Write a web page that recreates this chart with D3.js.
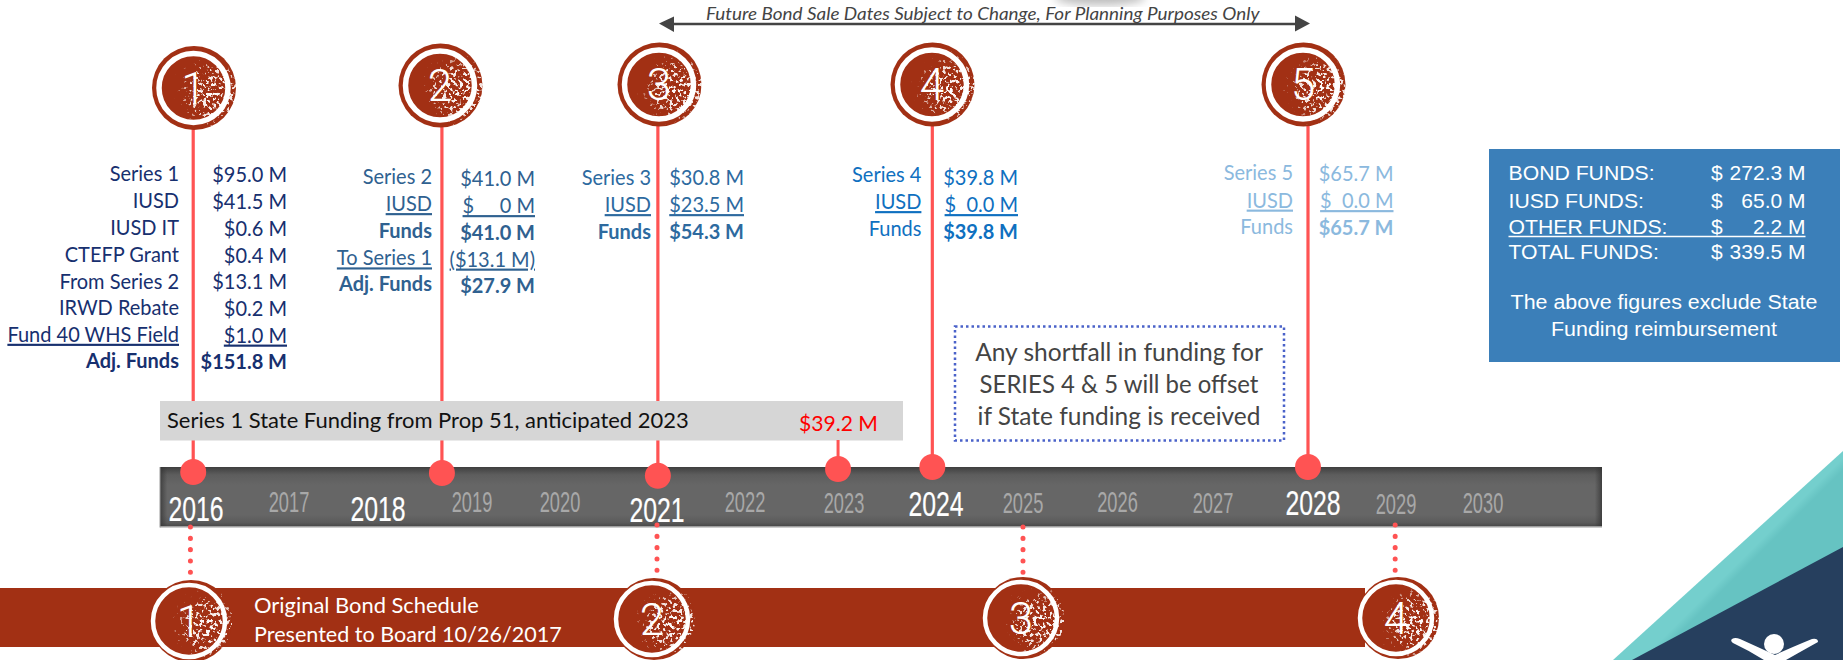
<!DOCTYPE html>
<html><head><meta charset="utf-8">
<script src="https://cdnjs.cloudflare.com/ajax/libs/d3/7.8.5/d3.min.js"></script>
<style>html,body{margin:0;padding:0;background:#fff;overflow:hidden}svg{display:block}text{white-space:pre}</style>
</head><body><svg id="c" width="1843" height="660"></svg>
<script>
// ---------- data ----------
const years = [2016,2017,2018,2019,2020,2021,2022,2023,2024,2025,2026,2027,2028,2029,2030];
const highlightYears = [2016,2018,2021,2024,2028];
const saleDates = [2015.97,2018.68,2021.01,2023.96,2027.95];
const stateFundingDate = 2022.94;
const originalDates = [2015.94,2021.0,2025.0,2028.99];
const series1Labels = ["Series 1","IUSD","IUSD IT","CTEFP Grant","From Series 2","IRWD Rebate","Fund 40 WHS Field","Adj. Funds"];
const series1Values = ["$95.0 M","$41.5 M","$0.6 M","$0.4 M","$13.1 M","$0.2 M","$1.0 M","$151.8 M"];
const series2Labels = ["Series 2","IUSD","Funds","To Series 1","Adj. Funds"];
const series2Values = ["$41.0 M","$\u00a0\u00a0\u00a0\u00a0\u00a00 M","$41.0 M","($13.1 M)","$27.9 M"];
const series3Labels = ["Series 3","IUSD","Funds"];
const series3Values = ["$30.8 M","$23.5 M","$54.3 M"];
const series4Labels = ["Series 4","IUSD","Funds"];
const series4Values = ["$39.8 M","$\u00a0\u00a00.0 M","$39.8 M"];
const series5Labels = ["Series 5","IUSD","Funds"];
const series5Values = ["$65.7 M","$\u00a0\u00a00.0 M","$65.7 M"];
const summaryLabels = ["BOND FUNDS:","IUSD FUNDS:","OTHER FUNDS:","TOTAL FUNDS:"];
const summaryAmounts = ["272.3 M","65.0 M","2.2 M","339.5 M"];
const summaryNote = ["The above figures exclude State","Funding reimbursement"];
const shortfallNote = ["Any shortfall in funding for","SERIES 4 & 5 will be offset","if State funding is received"];
const stateFundingText = "Series 1 State Funding from Prop 51, anticipated 2023";
const stateFundingValue = "$39.2 M";
const topNote = "Future Bond Sale Dates Subject to Change, For Planning Purposes Only";
const scheduleNote = ["Original Bond Schedule","Presented to Board 10/26/2017"];

// ---------- layout ----------
const yearPixels = [196,289,378,472,560,657,745,844,936,1023,1117.5,1213,1313,1396,1483];
const x = d3.scaleLinear().domain(years).range(yearPixels);
const yearBase = [521,512,521,512,512,522,512,513,516,513,512,513,515,514,513];
const saleDotY = [472,473,475.7,467,467];
const circleX = [193.5,440,659,932,1303];
const circleY = [88,85.5,84.5,84.5,84.5];
const origCircleX = [189,652,1021,1396];
const origCircleY = [621,619,618,618];
const origDotTop = [527,525,527,525];
const origDotBottom = [574,571,573,571];
const RED="#ff5353", RUST="#a23014";
const BODY="Lato, 'Noto Sans', sans-serif";
const svg = d3.select("#c");
const defs = svg.append("defs");

// speckled wear on the badges
const rg = defs.append("radialGradient").attr("id","speckGrad").attr("cx",.72).attr("cy",.56).attr("r",.5);
rg.append("stop").attr("offset",0).attr("stop-color","#fff").attr("stop-opacity",1);
rg.append("stop").attr("offset",.55).attr("stop-color","#fff").attr("stop-opacity",.85);
rg.append("stop").attr("offset",1).attr("stop-color","#fff").attr("stop-opacity",0);
const f = defs.append("filter").attr("id","speck").attr("x","-5%").attr("y","-5%").attr("width","110%").attr("height","110%")
  .attr("color-interpolation-filters","sRGB");
f.append("feTurbulence").attr("type","fractalNoise").attr("baseFrequency",.3).attr("numOctaves",2).attr("seed",7).attr("result","n");
f.append("feColorMatrix").attr("in","n").attr("type","matrix")
  .attr("values","0 0 0 0 1  0 0 0 0 1  0 0 0 0 1  1 0 0 0 0").attr("result","na");
f.append("feComposite").attr("in","na").attr("in2","SourceAlpha").attr("operator","arithmetic")
  .attr("k1",0).attr("k2",1).attr("k3",.28).attr("k4",-.28).attr("result","sum");
const ct = f.append("feComponentTransfer").attr("in","sum").attr("result","th");
ct.append("feFuncA").attr("type","linear").attr("slope",12).attr("intercept",-6.1);
f.append("feFlood").attr("flood-color","#fff").attr("result","w");
f.append("feComposite").attr("in","w").attr("in2","th").attr("operator","in").attr("result","spk");
f.append("feComposite").attr("in","spk").attr("in2","SourceAlpha").attr("operator","in");

const bar = defs.append("linearGradient").attr("id","barV").attr("x1",0).attr("x2",0).attr("y1",0).attr("y2",1);
[[0,"#3f3f3f"],[.13,"#5d5d5d"],[.3,"#666"],[.8,"#666"],[.93,"#5a5a5a"],[1,"#444"]].forEach(s=>bar.append("stop").attr("offset",s[0]).attr("stop-color",s[1]));
const barH = defs.append("linearGradient").attr("id","barH");
[[0,"#333",.75],[.005,"#333",0],[.995,"#333",0],[1,"#333",.75]].forEach(s=>barH.append("stop").attr("offset",s[0]).attr("stop-color",s[1]).attr("stop-opacity",s[2]));
defs.append("filter").attr("id","blur6").append("feGaussianBlur").attr("stdDeviation",5);
const tg = defs.append("linearGradient").attr("id","tealG").attr("gradientUnits","userSpaceOnUse")
  .attr("x1",1727).attr("y1",574).attr("x2",1733).attr("y2",580);
tg.append("stop").attr("offset",0).attr("stop-color","#74cfcd");
tg.append("stop").attr("offset",1).attr("stop-color","#66c3c2");

function label(g,px,py,str,o={}){
  const t=g.append("text").attr("transform",`translate(${px},${py})`)
    .attr("text-anchor",o.anchor||"start").attr("font-family",o.font||BODY)
    .attr("font-size",o.size||20).attr("fill",o.fill||"#000").text(str);
  if(o.weight) t.attr("font-weight",o.weight);
  if(o.italic) t.attr("font-style","italic");
  if(o.underline) t.attr("text-decoration","underline");
  if(o.stroke) t.attr("stroke",o.fill).attr("stroke-width",o.stroke);
  let sx=o.sx||1;
  if(o.w){ sx=o.w/t.node().getComputedTextLength(); }
  t.attr("transform",`translate(${px},${py}) scale(${sx},1)`);
  return t;
}

// top smudge + arrow
svg.append("ellipse").attr("cx",1100).attr("cy",-3).attr("rx",46).attr("ry",8).attr("fill","#bbb").attr("filter","url(#blur6)");
const arrowY=24;
svg.append("line").attr("x1",670).attr("x2",1298).attr("y1",arrowY).attr("y2",arrowY).attr("stroke","#444").attr("stroke-width",2.5);
svg.append("path").attr("d",`M659,${arrowY-.5}L674,${arrowY-7.5}V${arrowY+8}Z`).attr("fill","#444");
svg.append("path").attr("d",`M1310,${arrowY-.5}L1295,${arrowY-8.5}V${arrowY+7.5}Z`).attr("fill","#444");
label(svg,706,20,topNote,{size:18,italic:true,fill:"#444",w:554});

// vertical sale-date lines
const lineTops = circleY.map(d=>d+40);
svg.selectAll(".sale").data(saleDates).join("line").attr("class","sale")
  .attr("x1",d=>x(d)).attr("x2",d=>x(d)).attr("y1",(d,i)=>lineTops[i]).attr("y2",(d,i)=>saleDotY[i])
  .attr("stroke",RED).attr("stroke-width",3.2);

// state funding band
svg.append("rect").attr("x",160).attr("y",401).attr("width",743).attr("height",39.5).attr("fill","#d6d6d6");
label(svg,167,428,stateFundingText,{size:22,fill:"#111",w:522});
label(svg,799,431,stateFundingValue,{size:22,fill:"#f00",w:79});

// shortfall box
svg.append("rect").attr("x",955).attr("y",326.5).attr("width",329).attr("height",114).attr("fill","none")
  .attr("stroke","#4a62c9").attr("stroke-width",2.5).attr("stroke-dasharray","2.5 3");
const boxW=[288,279,283];
shortfallNote.forEach((s,i)=>label(svg,1119,361+i*32,s,{anchor:"middle",size:24.5,fill:"#444",w:boxW[i]}));

// summary box
svg.append("rect").attr("x",1489).attr("y",149).attr("width",351).attr("height",213).attr("fill","#3b7fb9");
const SANS="'Liberation Sans', Arial, sans-serif";
const sumY=[180,207.7,234,259];
summaryLabels.forEach((s,i)=>{
  label(svg,1508.5,sumY[i],s,{font:SANS,size:21,fill:"#fff",sx:1.01});
  label(svg,1711,sumY[i],"$",{font:SANS,size:21,fill:"#fff",sx:1});
  label(svg,1805.5,sumY[i],summaryAmounts[i],{font:SANS,size:21,fill:"#fff",anchor:"end",sx:1});
});
svg.append("line").attr("x1",1508.5).attr("x2",1805.5).attr("y1",236.5).attr("y2",236.5).attr("stroke","#fff").attr("stroke-width",1.5);
const noteW=[307,226];
summaryNote.forEach((s,i)=>label(svg,1664,[309,335.7][i],s,{font:SANS,size:20,fill:"#fff",anchor:"middle",w:noteW[i]}));

// funding columns
const columns=[
 {labels:series1Labels,values:series1Values,color:"#17306f",lx:179,vx:287,ly:[181,207.7,234.7,261.5,288.7,315,341.7,368],vy:[182,208.7,235.5,262.5,288.7,316,342.5,369],ul:[6],boldL:[7],boldV:[7]},
 {labels:series2Labels,values:series2Values,color:"#2f6190",lx:432,vx:535,ly:[184,211,238,265.3,291],vy:[186,213,239.5,266.5,292.5],ul:[1,3],boldL:[2,4],boldV:[2,4]},
 {labels:series3Labels,values:series3Values,color:"#2d6a9f",lx:651,vx:744,ly:[185,212,238.7],vy:[185,212,238.7],ul:[1],boldL:[2],boldV:[2]},
 {labels:series4Labels,values:series4Values,color:"#0f70c0",lx:921.4,vx:1018,ly:[181.7,209,235.7],vy:[185,212,238.7],ul:[1],boldL:[],boldV:[2]},
 {labels:series5Labels,values:series5Values,color:"#8bb9de",lx:1293,vx:1393.5,ly:[180,207.5,234],vy:[181,208,235],ul:[1],boldL:[],boldV:[2]}
];
columns.forEach(c=>{
  c.labels.forEach((s,i)=>label(svg,c.lx,c.ly[i],s,{anchor:"end",size:21.5,sx:.93,fill:c.color,underline:c.ul.includes(i),weight:c.boldL.includes(i)?700:null}));
  c.values.forEach((s,i)=>label(svg,c.vx,c.vy[i],s,{anchor:"end",size:21.5,sx:.93,fill:c.color,underline:c.ul.includes(i),weight:c.boldV.includes(i)?700:null}));
});

// timeline bar
svg.append("rect").attr("x",160).attr("y",467).attr("width",1442).attr("height",60).attr("fill","url(#barV)");
svg.append("rect").attr("x",160).attr("y",467).attr("width",1442).attr("height",60).attr("fill","url(#barH)");
svg.append("line").attr("x1",160).attr("x2",1602).attr("y1",527).attr("y2",527).attr("stroke","#bdbdbd").attr("stroke-width",1.5);
svg.append("line").attr("x1",160).attr("x2",160).attr("y1",467).attr("y2",527.5).attr("stroke","#9a9a9a").attr("stroke-width",1);

years.forEach((y,i)=>{
  const hi=highlightYears.includes(y);
  label(svg,x(y),yearBase[i],String(y),{anchor:"middle",font:"'Liberation Sans',sans-serif",
    size:hi?36:29,sx:hi?.69:.63,fill:hi?"#fff":"#a8a8a8",stroke:hi?.2:0});
});

// dots on the timeline
svg.selectAll(".sdot").data(saleDates).join("circle").attr("class","sdot")
  .attr("cx",d=>x(d)).attr("cy",(d,i)=>saleDotY[i]).attr("r",13).attr("fill",RED);
svg.append("line").attr("x1",x(stateFundingDate)).attr("x2",x(stateFundingDate)).attr("y1",440).attr("y2",469).attr("stroke",RED).attr("stroke-width",3);
svg.append("circle").attr("cx",x(stateFundingDate)).attr("cy",469).attr("r",13).attr("fill",RED);

// dotted drops to the original schedule
svg.selectAll(".drop").data(originalDates).join("line").attr("class","drop")
  .attr("x1",d=>x(d)).attr("x2",d=>x(d)).attr("y1",(d,i)=>origDotTop[i]).attr("y2",(d,i)=>origDotBottom[i])
  .attr("stroke",RED).attr("stroke-width",5).attr("stroke-linecap","round").attr("stroke-dasharray","0.1 11.2");

// original schedule band
svg.append("rect").attr("x",0).attr("y",588).attr("width",1365).attr("height",59).attr("fill",RUST);
label(svg,254,613,scheduleNote[0],{size:21.5,fill:"#fff",w:225});
label(svg,254,642,scheduleNote[1],{size:21.5,fill:"#fff",w:308});

function badge(cx,cy,n,o){
  const g=svg.append("g");
  g.append("circle").attr("cx",cx+o.dx).attr("cy",cy).attr("r",o.R).attr("fill",RUST);
  g.append("circle").attr("cx",cx).attr("cy",cy).attr("r",o.ring).attr("fill","none").attr("stroke","#fff").attr("stroke-width",o.rw);
  label(g,cx+o.tdx,cy+15.5,String(n),{anchor:"middle",font:"Roboto, sans-serif",weight:300,size:44,fill:"#fff"});
  g.append("circle").attr("cx",cx+o.dx).attr("cy",cy).attr("r",o.R+.5).attr("fill","url(#speckGrad)").attr("filter","url(#speck)");
}
circleX.forEach((cx,i)=>badge(cx,circleY[i],i+1,{R:42,ring:34.5,rw:5.5,dx:.5,tdx:0}));
origCircleX.forEach((cx,i)=>badge(cx,origCircleY[i],i+1,{R:41,ring:36,rw:4.5,dx:2,tdx:0}));

// corner
const corner=svg.append("g");
corner.append("path").attr("d","M1613,660L1843,451V660Z").attr("fill","url(#tealG)");
corner.append("path").attr("d","M1632,660L1843,547V660Z").attr("fill","#263f5e");
corner.append("circle").attr("cx",1774).attr("cy",644).attr("r",10).attr("fill","#fff");
corner.append("path").attr("d","M1732,639Q1735,637 1740,639Q1760,648 1775,655Q1790,648 1812,639Q1818,638 1818,642Q1800,652 1786,660H1764Q1748,650 1733,643Q1730,641 1732,639Z").attr("fill","#fff");
</script></body></html>
